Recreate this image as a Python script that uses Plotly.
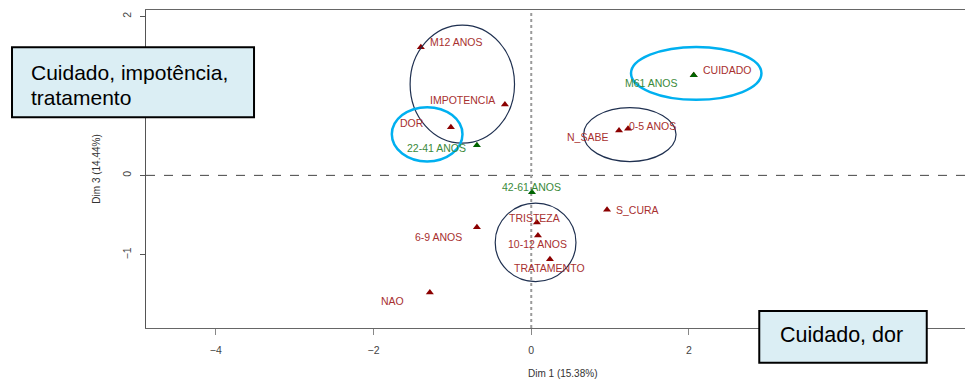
import plotly.graph_objects as go

# ---- data ----
labels = ["M12 ANOS", "IMPOTENCIA", "DOR", "CUIDADO", "N_SABE", "0-5 ANOS",
          "S_CURA", "TRISTEZA", "10-12 ANOS", "TRATAMENTO", "6-9 ANOS", "NAO"]
dim1 = [-1.400, -0.334, -1.019, 2.060, 1.113, 1.227, 0.961, 0.072, 0.085, 0.237, -0.689, -1.286]
dim3 = [1.613, 0.891, 0.606, 1.260, 0.564, 0.585, -0.434, -0.594, -0.757, -1.054, -0.652, -1.474]

sup_labels = ["22-41 ANOS", "42-61 ANOS", "M61 ANOS"]
sup_dim1 = [-0.689, 0.009, 2.060]
sup_dim3 = [0.380, -0.211, 1.260]

# ticks visible in the reference (4 and 1 are hidden under the text boxes)
x_ticks = [-4, -2, 0, 2]
y_ticks = [-1, 0, 2]

x_title = "Dim 1 (15.38%)"
y_title = "Dim 3 (14.44%)"
box1_lines = ["Cuidado, impotência,", "tratamento"]
box2_text = "Cuidado, dor"

# ---- label placement (style) ----
lab_pos = {
    "M12 ANOS": ("left", 8, 5), "IMPOTENCIA": ("right", -9, 5), "DOR": ("right", -26, 4.5),
    "CUIDADO": ("left", 8.5, 5.5), "N_SABE": ("right", -10.5, -6.3), "0-5 ANOS": ("left", 0, 3),
    "S_CURA": ("left", 8, 0), "TRISTEZA": ("center", -2.7, 5), "10-12 ANOS": ("center", 0, -8.3),
    "TRATAMENTO": ("center", -0.5, -9), "6-9 ANOS": ("right", -13.5, -9.4), "NAO": ("right", -25, -8),
    "22-41 ANOS": ("right", -10, -2.5), "42-61 ANOS": ("center", 0, 5.6), "M61 ANOS": ("right", -14.5, -8),
}

RED_T = "#a8302f"
GRN_T = "#3a8a3a"
FONT = "Liberation Sans, Arial, sans-serif"

fig = go.Figure()
fig.add_trace(go.Scatter(x=dim1, y=dim3, mode="markers",
                         marker=dict(symbol="triangle-up", size=7, color="#8b0000"),
                         hoverinfo="text", text=labels, showlegend=False))
fig.add_trace(go.Scatter(x=sup_dim1, y=sup_dim3, mode="markers",
                         marker=dict(symbol="triangle-up", size=7, color="#006400"),
                         hoverinfo="text", text=sup_labels, showlegend=False))

annotations = []
for lab, xv, yv, col in ([(l, a, b, RED_T) for l, a, b in zip(labels, dim1, dim3)] +
                         [(l, a, b, GRN_T) for l, a, b in zip(sup_labels, sup_dim1, sup_dim3)]):
    anc, xs, ys = lab_pos[lab]
    annotations.append(dict(x=xv, y=yv, xref="x", yref="y", text=lab, showarrow=False,
                            xanchor=anc, yanchor="middle", xshift=xs, yshift=ys,
                            font=dict(family=FONT, size=10.5, color=col), borderpad=0))

# axis titles
annotations.append(dict(x=0.5088, y=-0.1425, xref="paper", yref="paper", text=x_title,
                        showarrow=False, xanchor="center", yanchor="middle",
                        font=dict(family=FONT, size=10, color="#333")))
annotations.append(dict(x=-0.0598, y=0.498, xref="paper", yref="paper", text=y_title,
                        showarrow=False, xanchor="center", yanchor="middle", textangle=-90,
                        font=dict(family=FONT, size=10, color="#333")))
# box texts
for txt, yp in zip(box1_lines, [0.805, 0.7264]):
    annotations.append(dict(x=-0.1416, y=yp, xref="paper", yref="paper", text=txt,
                            showarrow=False, xanchor="left", yanchor="middle", align="left",
                            font=dict(family=FONT, size=21, color="#000"), borderpad=0))
annotations.append(dict(x=0.8494, y=-0.022, xref="paper", yref="paper", text=box2_text,
                        showarrow=False, xanchor="center", yanchor="middle",
                        font=dict(family=FONT, size=21.5, color="#000"), borderpad=0))

NAVY = "#1f3050"
CYAN = "#00b0f0"
shapes = [
    # zero reference lines
    dict(type="line", xref="paper", yref="y", x0=0, x1=1, y0=0, y1=0,
         line=dict(color="#444", width=1, dash="dash"), layer="below"),
    dict(type="line", xref="x", yref="paper", x0=0, x1=0, y0=0, y1=1,
         line=dict(color="#9a9a9a", width=2, dash="dot"), layer="below"),
    # ellipses
    dict(type="circle", xref="x", yref="y", x0=-1.536, x1=-0.212, y0=0.405, y1=1.889,
         line=dict(color=NAVY, width=1.2)),
    dict(type="circle", xref="x", yref="y", x0=-1.768, x1=-0.872, y0=0.174, y1=0.858,
         line=dict(color=CYAN, width=2.5)),
    dict(type="circle", xref="x", yref="y", x0=0.664, x1=1.836, y0=0.174, y1=0.853,
         line=dict(color=NAVY, width=1.2)),
    dict(type="circle", xref="x", yref="y", x0=1.265, x1=2.919, y0=0.950, y1=1.616,
         line=dict(color=CYAN, width=2.5)),
    dict(type="circle", xref="x", yref="y", x0=-0.457, x1=0.567, y0=-1.336, y1=-0.350,
         line=dict(color=NAVY, width=1.2)),
    # text boxes
    dict(type="rect", xref="paper", yref="paper", x0=-0.1636, x1=0.1319, y0=0.6626, y1=0.8827,
         fillcolor="#dbeef4", line=dict(color="#000", width=2), layer="above"),
    dict(type="rect", xref="paper", yref="paper", x0=0.7488, x1=0.9533, y0=-0.1091, y1=0.0535,
         fillcolor="#dbeef4", line=dict(color="#000", width=2), layer="above"),
]

fig.update_layout(
    width=965, height=380,
    margin=dict(l=146, r=0, t=10, b=52),
    plot_bgcolor="white", paper_bgcolor="white",
    annotations=annotations, shapes=shapes,
    xaxis=dict(range=[-4.885, 5.5], tickvals=x_ticks, showgrid=False, zeroline=False,
               showline=True, mirror=True, linecolor="#666", linewidth=1,
               ticks="outside", ticklen=6, tickcolor="#888", ticklabelstandoff=6,
               tickfont=dict(family=FONT, size=10.5, color="#444")),
    yaxis=dict(range=[-1.92, 2.08], tickvals=y_ticks, showgrid=False, zeroline=False,
               showline=True, mirror=False, linecolor="#555", linewidth=1,
               ticks="outside", ticklen=5, tickcolor="#555", tickangle=-90,
               ticklabelstandoff=5,
               tickfont=dict(family=FONT, size=10.5, color="#444")),
)

# remove the default page margin so the 965x380 figure fills the window exactly
fig.write_html("out.html",
               config={"displayModeBar": False},
               post_script="document.body.style.margin='0';document.body.style.overflow='hidden';")
